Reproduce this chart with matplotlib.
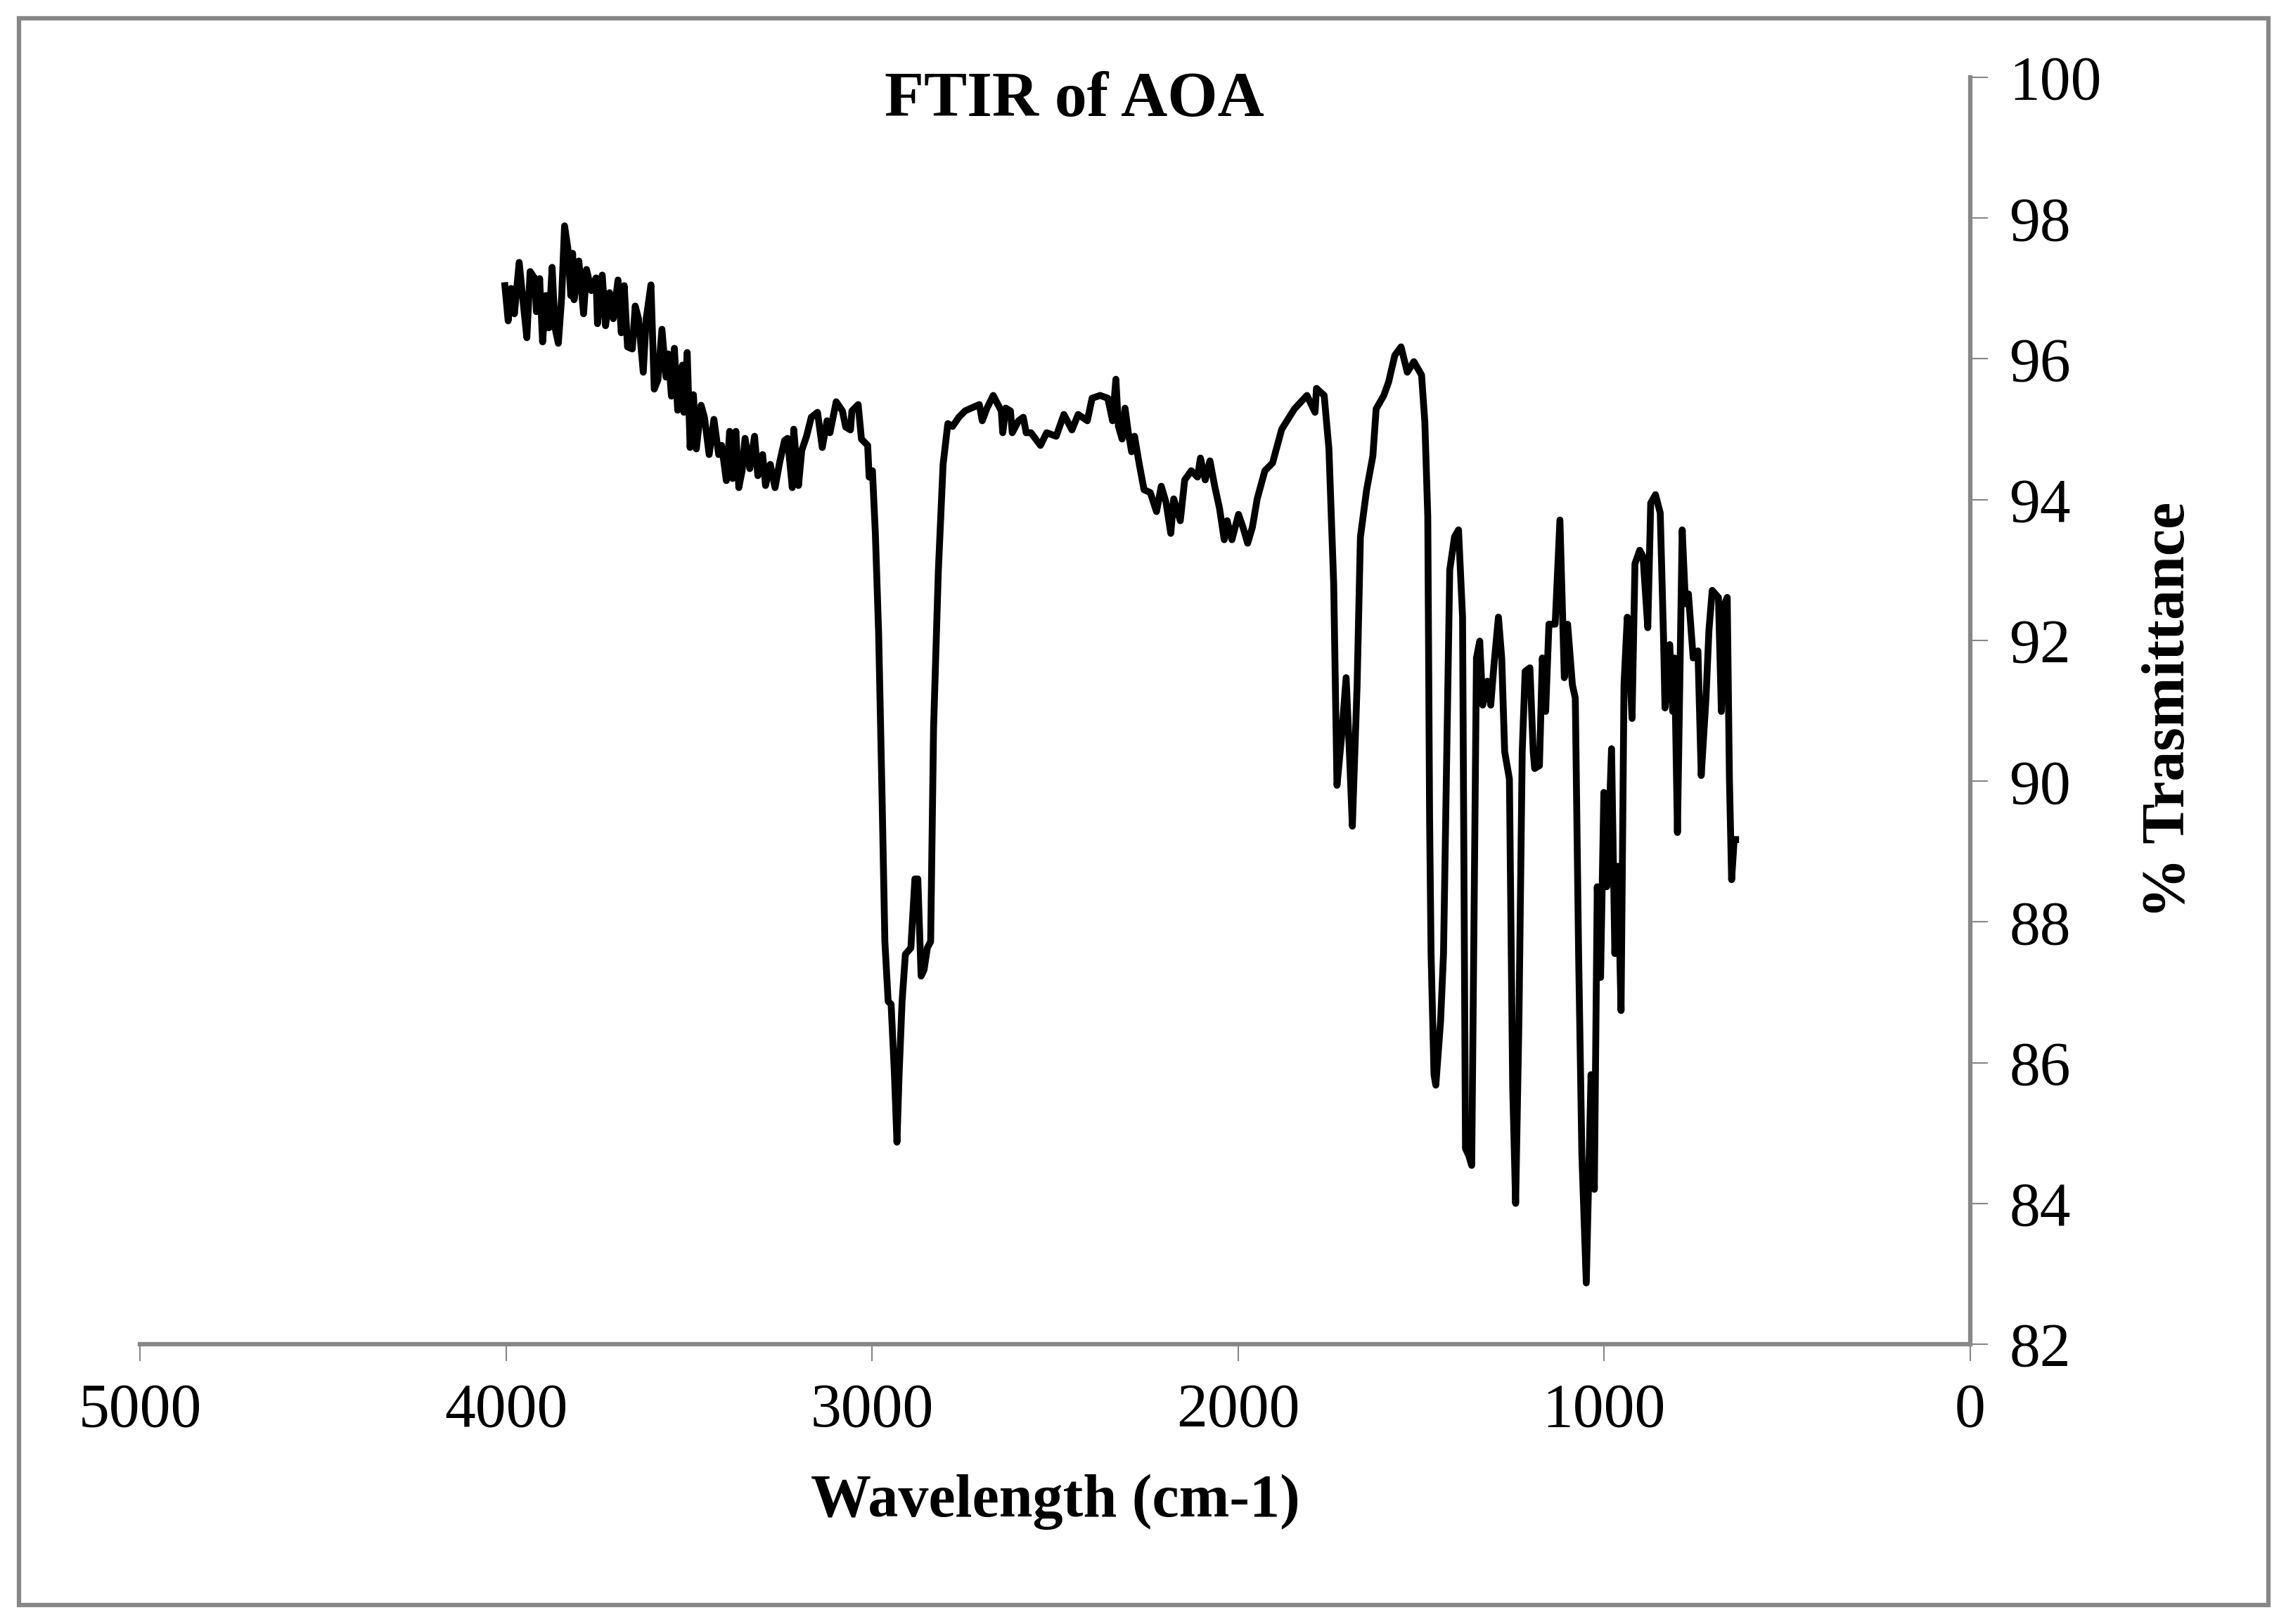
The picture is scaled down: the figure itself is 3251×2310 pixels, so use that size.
import matplotlib
matplotlib.use("Agg")
import matplotlib.pyplot as plt
from matplotlib.patches import Rectangle

# spectrum (cm-1, % transmittance)
wavenumber = [
    4003, 3994, 3986, 3977, 3964, 3951, 3943, 3934, 3921, 3917, 3908, 3900, 3891, 3883,
    3874, 3866, 3857, 3848, 3840, 3831, 3823, 3818, 3814, 3801, 3788, 3780, 3767, 3754,
    3750, 3737, 3728, 3717, 3707, 3694, 3685, 3677, 3668, 3655, 3647, 3638, 3625, 3617,
    3604, 3595, 3585, 3574, 3563, 3557, 3548, 3540, 3531, 3518, 3514, 3505, 3497, 3488,
    3480, 3467, 3458, 3445, 3432, 3419, 3411, 3398, 3389, 3381, 3372, 3364, 3355, 3347,
    3334, 3321, 3312, 3299, 3291, 3278, 3265, 3252, 3239, 3231, 3218, 3214, 3201, 3192,
    3179, 3166, 3149, 3136, 3123,
    3115, 3098, 3081, 3072, 3059, 3055, 3038, 3029, 3012, 3008, 2999, 2991, 2982, 2973,
    2965, 2956, 2948, 2939, 2932, 2926, 2918, 2909, 2894, 2883, 2875, 2866, 2858, 2849,
    2840, 2832, 2819, 2806, 2793, 2780, 2763, 2746, 2729, 2707, 2699, 2686, 2669, 2647,
    2643, 2635, 2622, 2617, 2600, 2587, 2579, 2566, 2540, 2523, 2497, 2476, 2454, 2437,
    2412, 2399, 2377, 2356, 2343, 2334, 2327, 2317, 2309, 2300, 2291, 2283, 2270, 2257,
    2240, 2223, 2210, 2197, 2184, 2176, 2158, 2146, 2128, 2111, 2103, 2090, 2077, 2064,
    2051, 2038, 2030, 2017, 1999, 1987, 1974, 1961, 1948, 1927,
    1906, 1881, 1846, 1812, 1790, 1786, 1765, 1752, 1739, 1730, 1718, 1705, 1696, 1688,
    1675, 1666, 1649, 1632, 1623, 1602, 1589, 1572, 1555, 1538, 1520, 1499, 1490, 1482,
    1477, 1473, 1465, 1460, 1447, 1439, 1430, 1422, 1409, 1398, 1387, 1379, 1370, 1362,
    1353, 1349, 1340, 1332, 1319, 1310, 1301, 1289, 1280, 1272, 1259, 1250, 1242, 1233,
    1224, 1216, 1203, 1194, 1190, 1177, 1169, 1160, 1151, 1134, 1121, 1109, 1100, 1087,
    1079, 1070, 1061, 1049, 1036, 1027, 1019, 1010, 1001, 993, 980, 971, 963, 954,
    946, 937, 924, 916, 903, 894, 881, 873, 860, 847, 838, 834, 821, 813,
    808, 800, 787, 778, 770, 757, 744, 735, 722, 714, 705, 688, 680, 671,
    664, 658, 652, 645, 641,
]
transmittance = [
    97.04, 96.54, 97.00, 96.64, 97.37, 96.70, 96.30, 97.24, 97.14, 96.67, 97.14, 96.24, 96.90, 96.44,
    97.30, 96.44, 96.22, 96.87, 97.89, 97.57, 96.90, 97.50, 96.84, 97.39, 96.64, 97.27, 96.97, 97.15,
    96.50, 97.19, 96.47, 96.94, 96.57, 97.12, 96.37, 97.04, 96.17, 96.14, 96.75, 96.57, 95.81, 96.57,
    97.05, 95.57, 95.70, 96.42, 95.74, 96.07, 95.47, 96.15, 95.27, 95.91, 95.24, 96.09, 94.74, 95.49,
    94.72, 95.34, 95.17, 94.64, 95.14, 94.64, 94.77, 94.27, 94.97, 94.30, 94.97, 94.17, 94.41, 94.87,
    94.44, 94.90, 94.34, 94.64, 94.20, 94.50, 94.17, 94.54, 94.84, 94.87, 94.17, 95.00, 94.20, 94.70,
    94.90, 95.17, 95.24, 94.74, 95.12,
    94.95, 95.39, 95.26, 95.03, 94.99, 95.26, 95.35, 94.86, 94.77, 94.32, 94.41, 93.52, 92.09, 89.86,
    87.72, 86.87, 86.83, 85.85, 84.87, 85.85, 86.87, 87.54, 87.63, 88.61, 88.61, 87.23, 87.32, 87.63,
    87.72, 90.75, 92.98, 94.50, 95.08, 95.04, 95.17, 95.26, 95.30, 95.35, 95.12, 95.30, 95.48, 95.26,
    94.95, 95.30, 95.26, 94.95, 95.12, 95.17, 94.95, 94.95, 94.77, 94.95, 94.90, 95.21, 94.99, 95.21,
    95.12, 95.44, 95.48, 95.44, 95.12, 95.71, 95.04, 94.86, 95.30, 94.95, 94.68, 94.90, 94.50, 94.14,
    94.10, 93.83, 94.19, 93.96, 93.52, 94.01, 93.70, 94.28, 94.41, 94.32, 94.59, 94.28, 94.55, 94.19,
    93.88, 93.43, 93.70, 93.43, 93.79, 93.61, 93.38, 93.61, 94.01, 94.41,
    94.52, 95.00, 95.29, 95.48, 95.24, 95.58, 95.48, 94.72, 92.80, 89.94, 90.60, 91.47, 90.40, 89.36,
    91.37, 93.47, 94.14, 94.62, 95.29, 95.48, 95.67, 96.05, 96.17, 95.81, 95.96, 95.77, 95.10, 93.76,
    89.46, 87.55, 85.83, 85.68, 86.59, 87.55, 90.42, 93.00, 93.47, 93.57, 92.33, 84.78, 84.68, 84.54,
    89.46, 91.75, 91.99, 91.08, 91.42, 91.08, 91.66, 92.33, 91.75, 90.42, 90.03, 85.64, 84.00, 86.59,
    90.42, 91.56, 91.61, 90.42, 90.18, 90.22, 91.75, 90.99, 92.23, 92.23, 93.71, 91.47, 92.23, 91.37,
    91.18, 87.55, 84.68, 82.87, 85.83, 84.20, 88.50, 87.21, 89.84, 88.50, 90.46, 87.55, 88.79, 86.74,
    91.37, 92.33, 90.89, 93.09, 93.28, 93.19, 92.18, 93.95, 94.07, 93.81, 92.04, 91.04, 91.94, 90.99,
    91.75, 89.27, 93.57, 92.52, 92.66, 91.75, 91.85, 90.08, 91.18, 92.14, 92.71, 92.61, 90.99, 92.52,
    92.61, 90.03, 88.60, 89.17, 89.17,
]

x_ticks = [5000, 4000, 3000, 2000, 1000, 0]
y_ticks = [82, 84, 86, 88, 90, 92, 94, 96, 98, 100]

grey = "#878787"
plt.rcParams['font.family'] = ['Liberation Serif', 'DejaVu Serif']

fig = plt.figure(figsize=(32.51, 23.10), dpi=100)
ax = fig.add_axes([0.0612, 0.1723, 0.8007, 0.7801])

ax.plot(wavenumber, transmittance, color="black", linewidth=7, solid_joinstyle="round")

ax.set_xlim(5000, 0)
ax.set_ylim(82, 100)
ax.set_xticks(x_ticks)
ax.set_yticks(y_ticks)

# y axis sits on the right like the Excel original
ax.yaxis.tick_right()
ax.spines['left'].set_visible(False)
ax.spines['top'].set_visible(False)
for side in ['right', 'bottom']:
    ax.spines[side].set_color(grey)
    ax.spines[side].set_linewidth(4.5)

ax.tick_params(axis='x', direction='out', length=17, width=1.5, color=grey,
               labelsize=63, pad=22)
ax.tick_params(axis='y', direction='out', length=18, width=1.5, color=grey,
               labelsize=63, pad=22)

fig.text(0.470, 0.938, "FTIR of AOA", ha='center', va='center',
         fontsize=66, fontweight='bold')
fig.text(0.4617, 0.0754, "Wavelength (cm-1)", ha='center', va='center',
         fontsize=62, fontweight='bold')
fig.text(0.949, 0.563, "% Trasmittance", ha='center', va='center',
         rotation=90, fontsize=62, fontweight='bold')

# outer chart border
fig.patches.append(Rectangle((27 / 3251, 1 - 2283 / 2310), (3226 - 27) / 3251,
                             (2283 - 26) / 2310, transform=fig.transFigure,
                             fill=False, edgecolor=grey, linewidth=4.5))

fig.savefig("out.png", dpi=100, facecolor="white")
